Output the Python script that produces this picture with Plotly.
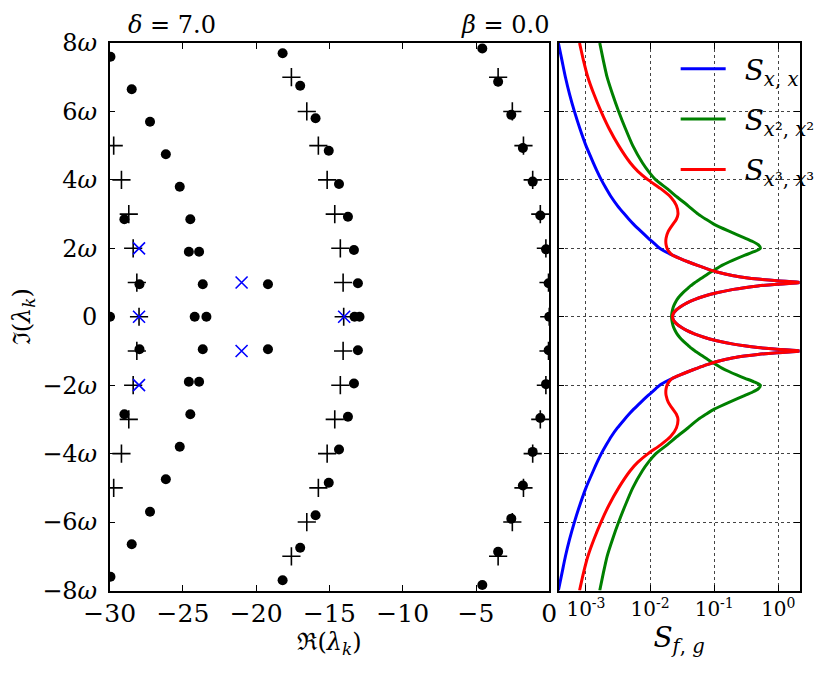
import numpy as np
import plotly.graph_objects as go

# ---------------- Left panel data (eigenvalues) ----------------
# black dots
dot_re = [-29.95, -28.5, -27.25, -26.17, -25.22, -24.5, -24.6, -23.9, -23.65, -24.2, -23.4,
          -23.65, -24.6, -23.9, -24.5, -25.22, -26.17, -27.25, -28.5, -29.95,
          -29.0, -27.97, -29.98, -27.97, -29.0, -19.2, -19.2,
          -18.2, -17.0, -15.95, -15.05, -14.35, -13.74, -13.33, -13.06, -13.29, -12.95,
          -13.06, -13.33, -13.74, -14.35, -15.05, -15.95, -17.0, -18.2,
          -4.57, -3.49, -2.59, -1.8, -1.13, -0.61, -0.22, -0.04, 0.0,
          -0.04, -0.22, -0.61, -1.13, -1.8, -2.59, -3.49, -4.57]
dot_im = [7.6, 6.65, 5.7, 4.75, 3.8, 2.85, 1.9, 1.9, 0.95, 0.0, 0.0,
          -0.95, -1.9, -1.9, -2.85, -3.8, -4.75, -5.7, -6.65, -7.6,
          2.85, 0.95, 0.0, -0.95, -2.85, 0.95, -0.95,
          7.7, 6.75, 5.8, 4.85, 3.88, 2.92, 1.95, 0.98, 0.0, 0.0,
          -0.98, -1.95, -2.92, -3.88, -4.85, -5.8, -6.75, -7.7,
          7.84, 6.87, 5.9, 4.93, 3.95, 2.96, 1.97, 0.98, 0.0,
          -0.98, -1.97, -2.96, -3.95, -4.93, -5.9, -6.87, -7.84]

# plus markers
plus_re = [-29.73, -29.2, -28.7, -28.4, -28.15, -28.0, -28.15, -28.4, -28.7, -29.2, -29.73,
           -17.6, -16.55, -15.76, -15.16, -14.64, -14.26, -14.07, -14.03,
           -14.07, -14.26, -14.64, -15.16, -15.76, -16.55, -17.6,
           -3.49, -2.52, -1.76, -1.13, -0.61, -0.23, -0.05, 0.0,
           -0.05, -0.23, -0.61, -1.13, -1.76, -2.52, -3.49]
plus_im = [5, 4, 3, 2, 1, 0, -1, -2, -3, -4, -5,
           7, 6, 5, 4, 3, 2, 1, 0, -1, -2, -3, -4, -5, -6, -7,
           7, 6, 5, 4, 3, 2, 1, 0, -1, -2, -3, -4, -5, -6, -7]

# blue x markers
blue_re = [-28.0, -28.0, -28.0, -21.0, -21.0, -14.0]
blue_im = [2, 0, -2, 1, -1, 0]

re_ticks = [-30, -25, -20, -15, -10, -5, 0]
re_ticklabels = ["\u221230", "\u221225", "\u221220", "\u221215", "\u221210", "\u22125", "0"]
im_ticks = [-8, -6, -4, -2, 0, 2, 4, 6, 8]
im_ticklabels = ["\u22128<i>\u03c9</i>", "\u22126<i>\u03c9</i>", "\u22124<i>\u03c9</i>",
                 "\u22122<i>\u03c9</i>", "0", "2<i>\u03c9</i>", "4<i>\u03c9</i>",
                 "6<i>\u03c9</i>", "8<i>\u03c9</i>"]

# ---------------- Right panel data (spectra, log10 values) ----------------
omega = [8, 7.5, 7, 6.5, 6, 5.5, 5, 4.5, 4.25, 4, 3.75, 3.5, 3.25, 3, 2.85, 2.7, 2.5, 2.3,
         2.2, 2.1, 2, 1.9, 1.8, 1.7, 1.6, 1.5, 1.4, 1.3, 1.2, 1.15, 1.1, 1.05, 1.0, 0.95,
         0.9, 0.85, 0.8, 0.7, 0.6, 0.5, 0.4, 0.3, 0.2, 0.1, 0,
         -0.1, -0.2, -0.3, -0.4, -0.5, -0.6, -0.7, -0.8, -0.85, -0.9, -0.95, -1.0, -1.05,
         -1.1, -1.15, -1.2, -1.3, -1.4, -1.5, -1.6, -1.7, -1.8, -1.9, -2, -2.1, -2.2, -2.3,
         -2.5, -2.7, -2.85, -3, -3.25, -3.5, -3.75, -4, -4.25, -4.5, -5, -5.5, -6, -6.5,
         -7, -7.5, -8]

log_S_xx = [-3.43, -3.375, -3.32, -3.255, -3.18, -3.095, -3.00, -2.885, -2.825, -2.76,
            -2.685, -2.605, -2.51, -2.40, -2.33, -2.255, -2.145, -2.03, -1.97, -1.91, -1.85,
            -1.76, -1.65, -1.53, -1.40, -1.26, -1.11, -0.94, -0.70, -0.53, -0.32, -0.02,
            0.36, -0.02, -0.32, -0.53, -0.70, -0.96, -1.16, -1.31, -1.43, -1.52, -1.59,
            -1.635, -1.65,
            -1.635, -1.59, -1.52, -1.43, -1.31, -1.16, -0.96, -0.70, -0.53, -0.32, -0.02,
            0.36, -0.02, -0.32, -0.53, -0.70, -0.94, -1.11, -1.26, -1.40, -1.53, -1.65,
            -1.76, -1.85, -1.91, -1.97, -2.03, -2.145, -2.255, -2.33, -2.40, -2.51, -2.605,
            -2.685, -2.76, -2.825, -2.885, -3.00, -3.095, -3.18, -3.255, -3.32, -3.375, -3.43]

log_S_x2x2 = [-2.785, -2.73, -2.67, -2.585, -2.49, -2.385, -2.27, -2.12, -2.025, -1.91,
              -1.74, -1.58, -1.41, -1.25, -1.13, -1.00, -0.77, -0.52, -0.40, -0.31, -0.28,
              -0.38, -0.52, -0.65, -0.77, -0.88, -0.97, -1.06, -1.14, -1.18, -1.22, -1.26,
              -1.30, -1.335, -1.37, -1.40, -1.43, -1.49, -1.54, -1.58, -1.61, -1.635, -1.65,
              -1.66, -1.665,
              -1.66, -1.65, -1.635, -1.61, -1.58, -1.54, -1.49, -1.43, -1.40, -1.37, -1.335,
              -1.30, -1.26, -1.22, -1.18, -1.14, -1.06, -0.97, -0.88, -0.77, -0.65, -0.52,
              -0.38, -0.28, -0.31, -0.40, -0.52, -0.77, -1.00, -1.13, -1.25, -1.41, -1.58,
              -1.74, -1.91, -2.025, -2.12, -2.27, -2.385, -2.49, -2.585, -2.67, -2.73, -2.785]

log_S_x3x3 = [-3.10, -3.04, -2.97, -2.875, -2.765, -2.64, -2.49, -2.31, -2.19, -2.03, -1.84,
              -1.68, -1.59, -1.565, -1.59, -1.645, -1.715, -1.75, -1.755, -1.75, -1.735,
              -1.705, -1.65, -1.53, -1.40, -1.26, -1.11, -0.94, -0.70, -0.53, -0.32, -0.02,
              0.36, -0.02, -0.32, -0.53, -0.70, -0.96, -1.16, -1.31, -1.43, -1.52, -1.59,
              -1.635, -1.65,
              -1.635, -1.59, -1.52, -1.43, -1.31, -1.16, -0.96, -0.70, -0.53, -0.32, -0.02,
              0.36, -0.02, -0.32, -0.53, -0.70, -0.94, -1.11, -1.26, -1.40, -1.53, -1.65,
              -1.705, -1.735, -1.75, -1.755, -1.75, -1.715, -1.645, -1.59, -1.565, -1.59,
              -1.68, -1.84, -2.03, -2.19, -2.31, -2.49, -2.64, -2.765, -2.875, -2.97, -3.04,
              -3.10]

S_ticks = [1e-3, 1e-2, 1e-1, 1e0]
S_ticklabels = ["10<sup>-3</sup>", "10<sup>-2</sup>", "10<sup>-1</sup>", "10<sup>0</sup>"]

series_names = ["\u2002<i>S</i><sub><i>x</i>, <i>x</i></sub>",
                "\u2002<i>S</i><sub><i>x</i>\u00b2, <i>x</i>\u00b2</sub>",
                "\u2002<i>S</i><sub><i>x</i>\u00b3, <i>x</i>\u00b3</sub>"]
series_colors = ["#0000ff", "#008000", "#ff0000"]

# ---------------- Figure ----------------
# The page body adds an 8px offset, so the figure is 16px smaller than the window
# and all pixel targets below are given in window pixels (minus the 8px offset).
FONT = "DejaVu Serif"
W, H = 812, 664
OFF = 8


def px_x(p):
    return (p - OFF) / W


def px_y(p):
    return 1 - (p - OFF) / H


fig = go.Figure()

fig.add_trace(go.Scatter(x=dot_re, y=dot_im, mode="markers", showlegend=False,
                         marker=dict(symbol="circle", size=10, color="black"),
                         xaxis="x", yaxis="y"))
fig.add_trace(go.Scatter(x=plus_re, y=plus_im, mode="markers", showlegend=False,
                         marker=dict(symbol="cross-thin", size=13, color="black",
                                     line=dict(width=1.6, color="black")),
                         xaxis="x", yaxis="y"))
fig.add_trace(go.Scatter(x=blue_re, y=blue_im, mode="markers", showlegend=False,
                         marker=dict(symbol="x-thin", size=12, color="#0000ff",
                                     line=dict(width=1.6, color="#0000ff")),
                         xaxis="x", yaxis="y"))

for i, (name, col, logs) in enumerate(zip(series_names, series_colors,
                                          [log_S_xx, log_S_x2x2, log_S_x3x3])):
    fig.add_trace(go.Scatter(x=10 ** np.array(logs), y=omega, mode="lines", name=name,
                             legendgroup="g%d" % i,
                             line=dict(color=col, width=3, shape="spline", smoothing=0.6),
                             xaxis="x2", yaxis="y2"))

x1 = [px_x(111), px_x(556)]
x2 = [px_x(565.5), px_x(809.5)]
ydom = [px_y(590.5), px_y(43)]

axis_common = dict(showline=True, linecolor="black", linewidth=1.5, mirror="ticks",
                   ticks="inside", ticklen=6, tickwidth=1, tickcolor="black",
                   zeroline=False, automargin=False)

fig.update_layout(
    width=W, height=H,
    margin=dict(l=0, r=0, t=0, b=0),
    paper_bgcolor="white", plot_bgcolor="white",
    font=dict(family=FONT, color="black", size=24),
    xaxis=dict(domain=x1, range=[-30, 0], tickvals=re_ticks, ticktext=re_ticklabels,
               showgrid=False, anchor="y", tickfont=dict(size=25),
               title=dict(text="\u211c(<i>\u03bb</i><sub><i>k</i></sub>)",
                          font=dict(size=24), standoff=0),
               **axis_common),
    yaxis=dict(domain=ydom, range=[-8, 8], tickvals=im_ticks, ticktext=im_ticklabels,
               showgrid=False, anchor="x", tickfont=dict(size=24), ticklabelstandoff=6,
               title=dict(text="\u2111(<i>\u03bb</i><sub><i>k</i></sub>)",
                          font=dict(size=24), standoff=14),
               **axis_common),
    xaxis2=dict(domain=x2, type="log", range=[-3.426, 0.332], tickvals=S_ticks,
                ticktext=S_ticklabels, anchor="y2", tickfont=dict(size=20),
                showgrid=True, gridcolor="#444", gridwidth=1, griddash="dot",
                title=dict(text="<i>S</i><sub><i>f</i>, <i>g</i></sub>",
                           font=dict(size=28), standoff=0),
                **axis_common),
    yaxis2=dict(domain=ydom, range=[-8, 8], tickvals=im_ticks, showticklabels=False,
                anchor="x2", matches="y",
                showgrid=True, gridcolor="#444", gridwidth=1, griddash="dot",
                **axis_common),
    legend=dict(x=px_x(684), y=px_y(44), xanchor="left", yanchor="top",
                bgcolor="rgba(0,0,0,0)", borderwidth=0, font=dict(size=28),
                itemwidth=45, tracegroupgap=11),
    showlegend=True,
)

fig.add_annotation(text="<i>\u03b4</i> = 7.0", x=px_x(127), y=px_y(25), xref="paper",
                   yref="paper", xanchor="left", yanchor="middle", showarrow=False,
                   font=dict(size=24))
fig.add_annotation(text="<i>\u03b2</i> = 0.0", x=px_x(558), y=px_y(25), xref="paper",
                   yref="paper", xanchor="right", yanchor="middle", showarrow=False,
                   font=dict(size=24))

fig.write_html("out.html")
